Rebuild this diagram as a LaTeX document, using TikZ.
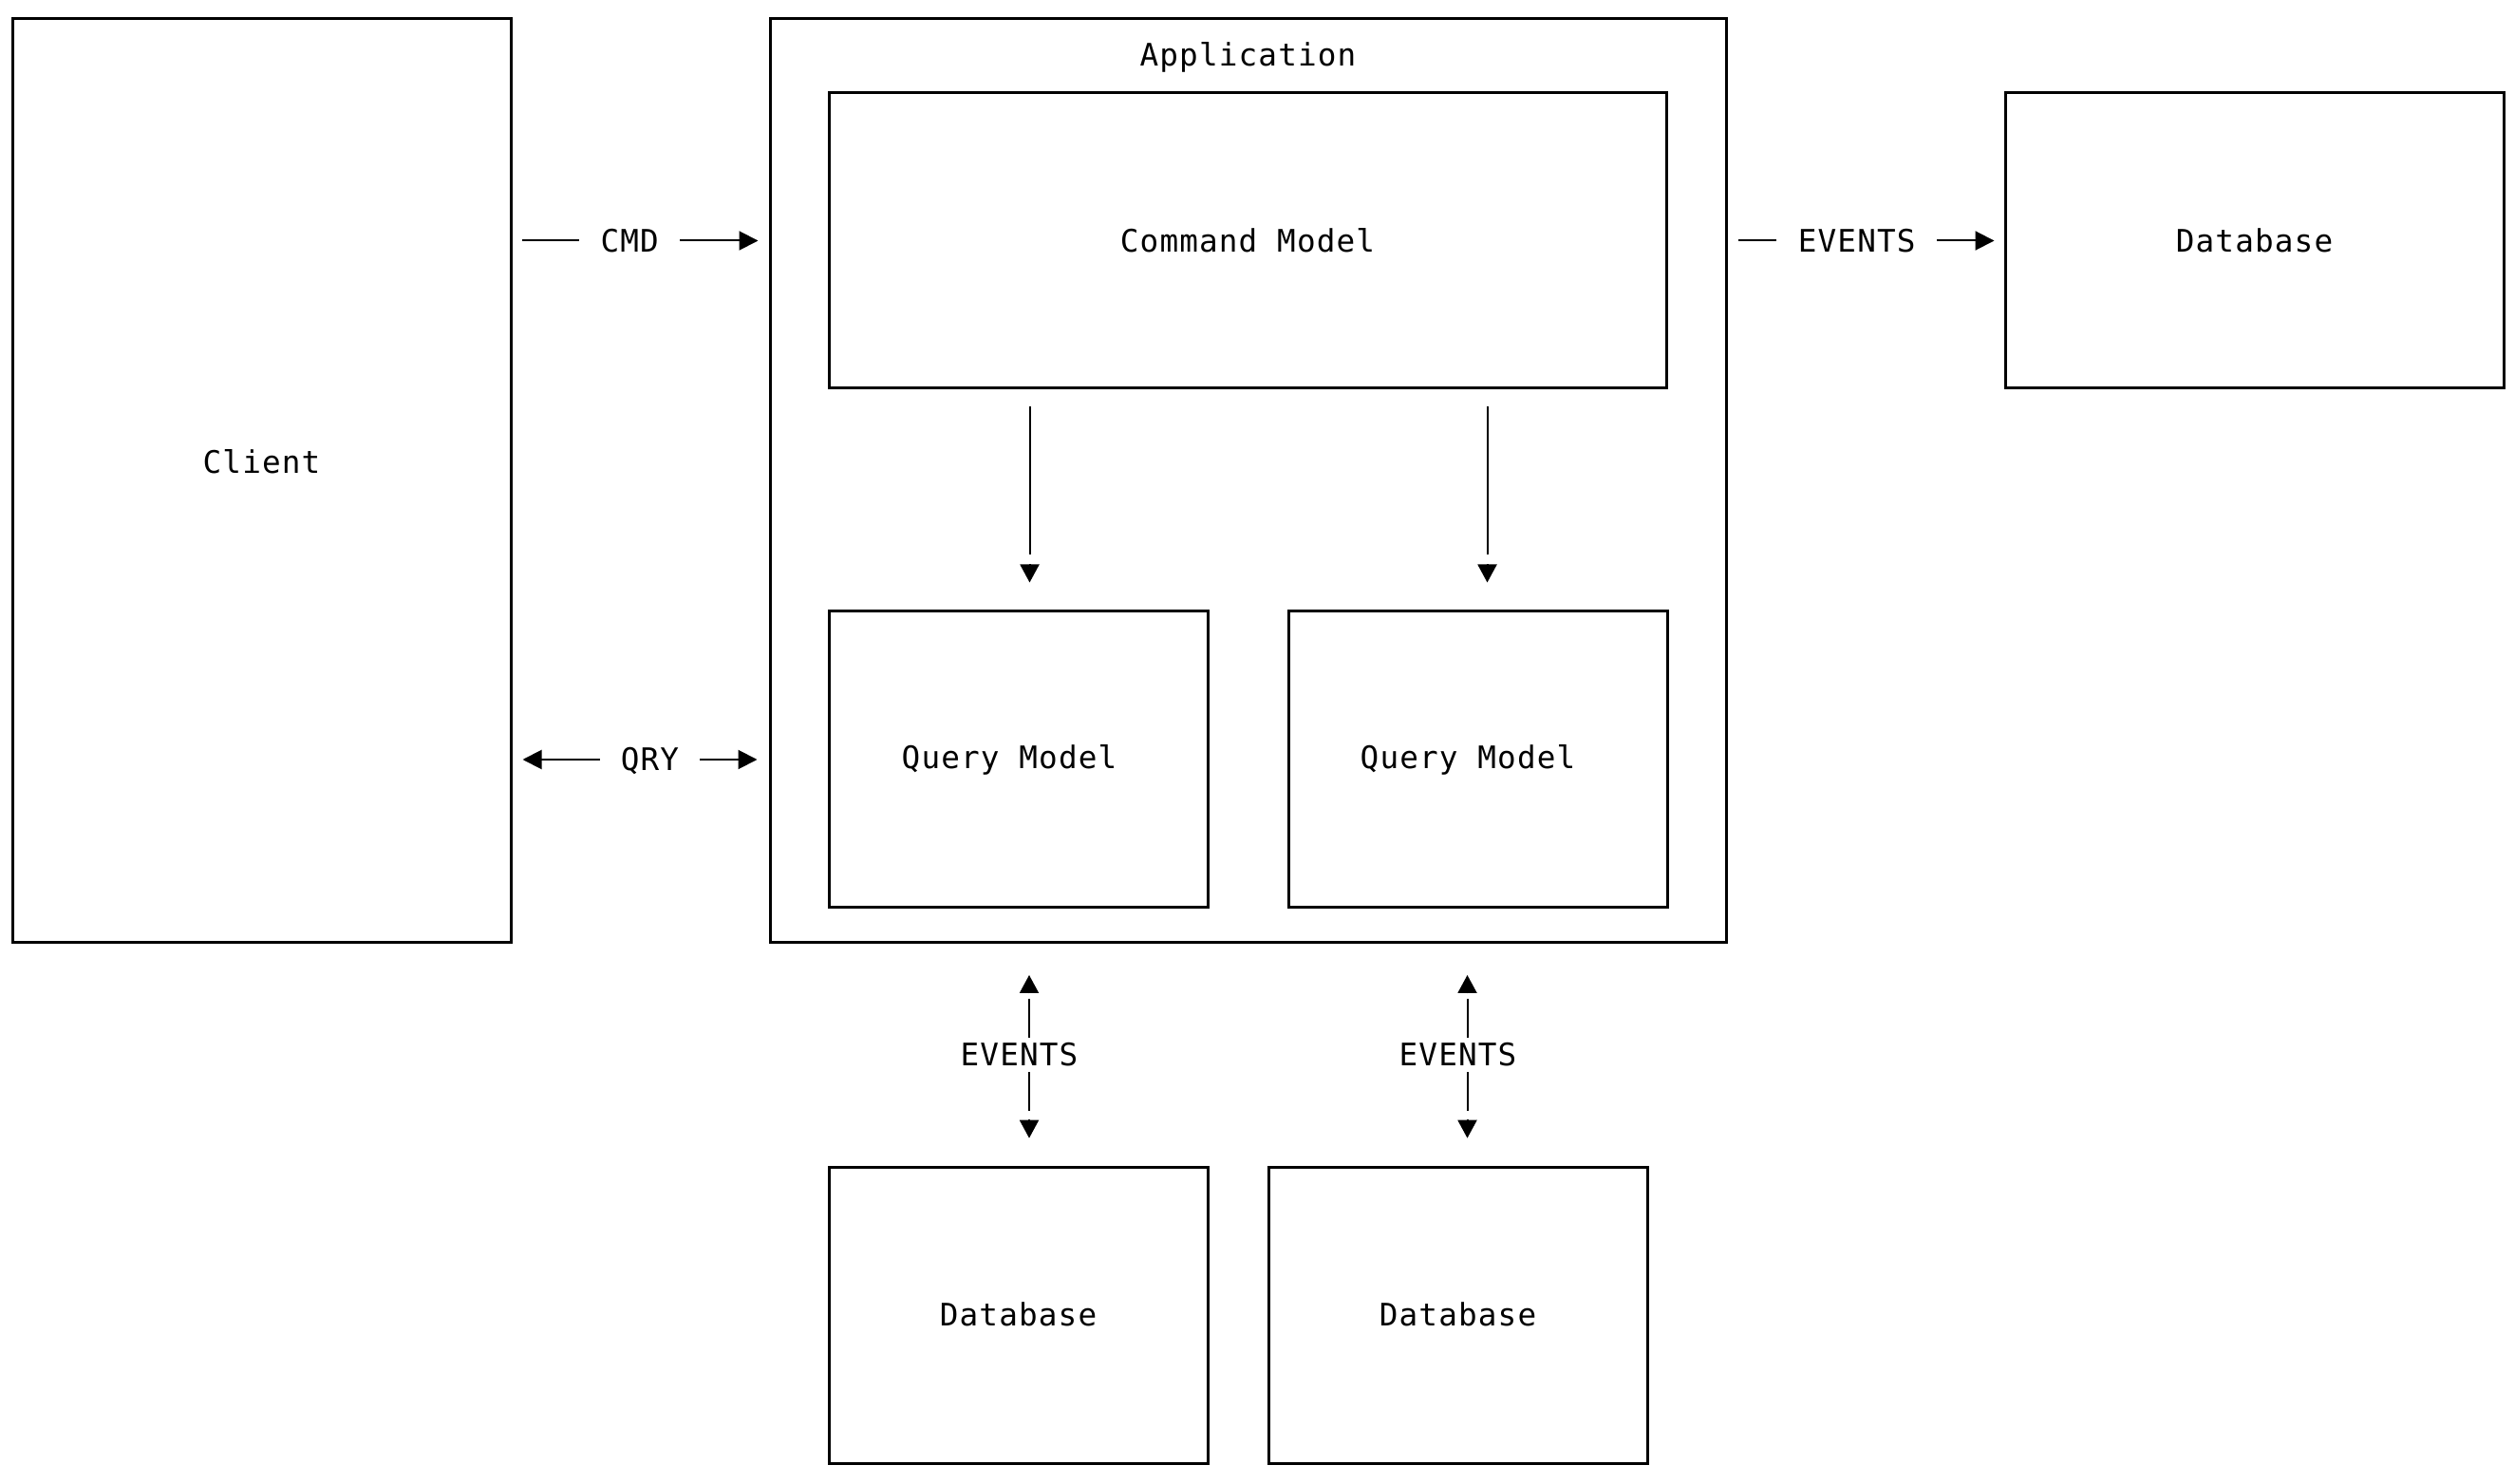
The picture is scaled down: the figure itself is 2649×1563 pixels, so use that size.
\documentclass[tikz,border=0pt]{standalone}
\usepackage{fontspec}
\setmainfont{DejaVu Sans Mono}[LetterSpace=3.5]
\usetikzlibrary{arrows.meta}
\begin{document}
\fontsize{9.8pt}{12pt}\selectfont
\begin{tikzpicture}[x=0.3pt,y=-0.3pt,
  box/.style={draw, line width=0.9pt, inner sep=0pt, text height=7.15pt, text depth=0pt},
  conn/.style={line width=0.6pt},
  tip/.tip={Triangle[length=6pt,width=6pt]},
  vtip/.tip={Triangle[length=5.7pt,width=6pt]},
  gap/.style={fill=white, inner sep=0pt, text height=7.15pt, text depth=0pt},
  every label/.style={inner sep=0pt, text height=7.15pt, text depth=0pt}]
\useasboundingbox (0,0) rectangle (2649,1563);

% boxes
\node[box, minimum width=157.5pt, minimum height=291.9pt,
      label={[yshift=6pt]center:Client}] (client) at (275.5,506.5) {};
\node[box, minimum width=302.1pt, minimum height=291.9pt,
      label={[yshift=134.7pt]center:Application}] (app) at (1314.5,506.5) {};
\node[box, minimum width=264.6pt, minimum height=93.3pt] (cm) at (1314,253.5) {Command Model};
\node[box, minimum width=119.7pt, minimum height=93.6pt,
      label={[xshift=-2.85pt,yshift=0.6pt]center:Query Model}] (qm1) at (1072.5,800) {};
\node[box, minimum width=119.7pt, minimum height=93.6pt,
      label={[xshift=-3.15pt,yshift=0.6pt]center:Query Model}] (qm2) at (1556.5,800) {};
\node[box, minimum width=157.5pt, minimum height=93.3pt] (dbr) at (2374.5,253.5) {Database};
\node[box, minimum width=119.7pt, minimum height=93.6pt] (db1) at (1072.5,1385) {Database};
\node[box, minimum width=119.7pt, minimum height=93.6pt] (db2) at (1535.5,1385) {Database};

% horizontal connectors
\draw[conn, -tip, shorten <=3pt, shorten >=3.3pt]
  (client.east |- cm.west) -- node[gap, pos=0.458, minimum width=31.8pt] {CMD} (app.west |- cm.west);
\draw[conn, tip-tip, shorten <=3.3pt, shorten >=3.6pt]
  (client.east |- qm1.west) -- node[gap, pos=0.537, minimum width=31.5pt] {QRY} (app.west |- qm1.west);
\draw[conn, -tip, shorten <=3.3pt, shorten >=3pt]
  (app.east |- cm.east) -- node[gap, pos=0.468, minimum width=50.7pt] {EVENTS} (dbr.west);

% command model to query models (line, then a detached arrow head)
\coordinate (a1) at ([xshift=3.6pt]qm1.north);
\coordinate (a1t) at (a1 |- cm.south);
\coordinate (a2) at ([xshift=3pt]qm2.north);
\coordinate (a2t) at (a2 |- cm.south);
\draw[conn, shorten <=5.4pt, shorten >=17.55pt] (a1t) -- (a1);
\draw[conn, -vtip] ([yshift=14.45pt]a1) -- ([yshift=8.7pt]a1);
\draw[conn, shorten <=5.4pt, shorten >=17.55pt] (a2t) -- (a2);
\draw[conn, -vtip] ([yshift=14.45pt]a2) -- ([yshift=8.7pt]a2);

% application to databases
\coordinate (b1) at ([xshift=3.45pt]db1.north);
\coordinate (b1t) at (b1 |- app.south);
\coordinate (b2) at ([xshift=3pt]db2.north);
\coordinate (b2t) at (b2 |- app.south);
\draw[conn, shorten <=17.25pt, shorten >=17.4pt]
  (b1t) -- node[gap, pos=0.498, minimum height=10.8pt, xshift=-3.15pt] {EVENTS} (b1);
\draw[conn, -vtip] ([yshift=-15.6pt]b1t) -- ([yshift=-9.75pt]b1t);
\draw[conn, -vtip] ([yshift=14.45pt]b1) -- ([yshift=8.64pt]b1);
\draw[conn, shorten <=17.25pt, shorten >=17.4pt]
  (b2t) -- node[gap, pos=0.498, minimum height=10.8pt, xshift=-3pt] {EVENTS} (b2);
\draw[conn, -vtip] ([yshift=-15.6pt]b2t) -- ([yshift=-9.75pt]b2t);
\draw[conn, -vtip] ([yshift=14.45pt]b2) -- ([yshift=8.64pt]b2);
\end{tikzpicture}
\end{document}
